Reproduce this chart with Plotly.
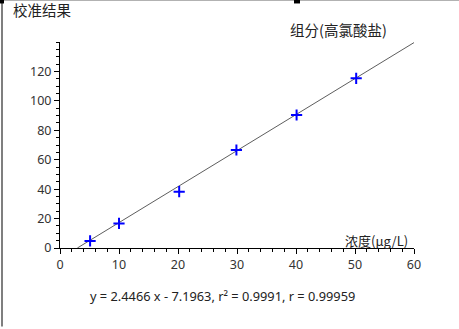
import plotly.graph_objects as go

conc = [5.1, 10.0, 20.2, 29.9, 40.1, 50.2]
resp = [4.8, 16.7, 38.3, 66.6, 90.4, 115.3]
slope = 2.4466
intercept = -7.1963
x_ticks = [0, 10, 20, 30, 40, 50, 60]
y_ticks = [0, 20, 40, 60, 80, 100, 120]

x0 = -intercept / slope
x1 = 60
line_x = [x0, x1]
line_y = [slope * v + intercept for v in line_x]

W, H = 459, 329
L, R = 60, 414
T, B = 42.4, 247.7
def px(x):
    return (x - L) / (R - L)
def py(y):
    return (B - y) / (B - T)

FONT = "Noto Sans, Noto Sans CJK SC, sans-serif"
CJK = "Noto Sans CJK SC, sans-serif"

fig = go.Figure()
fig.add_trace(go.Scatter(x=line_x, y=line_y, mode="lines",
                         line=dict(color="#333333", width=0.8), hoverinfo="skip"))
fig.add_trace(go.Scatter(x=conc, y=resp, mode="markers",
                         marker=dict(symbol="cross-thin", size=8,
                                     line=dict(color="#0000ff", width=2), color="#0000ff")))

axis_common = dict(showgrid=False, zeroline=False, showline=True, linecolor="black",
                   linewidth=1, ticks="outside", ticklen=5, tickcolor="black",
                   tickfont=dict(family=FONT, size=12.5, color="#333333"))
fig.update_xaxes(range=[0, 60], tickvals=x_ticks, **axis_common,
                 minor=dict(dtick=2, ticks="outside", ticklen=3, tickcolor="black"))
fig.update_yaxes(range=[0, 140], tickvals=y_ticks, **axis_common,
                 minor=dict(dtick=5, ticks="outside", ticklen=3, tickcolor="black"))

ann = []
ann.append(dict(x=px(11), y=py(10), xref="paper", yref="paper", text="校准结果",
                showarrow=False, xanchor="left", yanchor="middle",
                font=dict(family=CJK, size=14.5, color="#222222")))
ann.append(dict(x=px(338), y=py(30), xref="paper", yref="paper", text="组分(高氯酸盐)",
                showarrow=False, xanchor="center", yanchor="middle",
                font=dict(family=CJK, size=14.5, color="#222222")))
ann.append(dict(x=px(410), y=py(240), xref="paper", yref="paper", text="浓度(μg/L)",
                showarrow=False, xanchor="right", yanchor="middle",
                font=dict(family=CJK, size=13, color="#222222")))
ann.append(dict(x=px(222), y=py(296), xref="paper", yref="paper",
                text="y = %.4f x - %.4f, r² = 0.9991, r = 0.99959" % (slope, -intercept),
                showarrow=False, xanchor="center", yanchor="middle",
                font=dict(family=FONT, size=12.8, color="#222222")))

shapes = [
    dict(type="line", xref="paper", yref="paper", x0=px(0), x1=px(W), y0=py(0.5), y1=py(0.5),
         line=dict(color="#999999", width=1.5)),
    dict(type="line", xref="paper", yref="paper", x0=px(2), x1=px(2), y0=py(0), y1=py(326),
         line=dict(color="#555555", width=1.5)),
    dict(type="rect", xref="paper", yref="paper", x0=px(0), x1=px(4), y0=py(0), y1=py(4),
         fillcolor="black", line=dict(width=0)),
    dict(type="rect", xref="paper", yref="paper", x0=px(294), x1=px(300), y0=py(0), y1=py(4),
         fillcolor="black", line=dict(width=0)),
]

fig.update_layout(width=W, height=H, margin=dict(l=L, r=W - R, t=T, b=H - B),
                  paper_bgcolor="white", plot_bgcolor="white", showlegend=False,
                  annotations=ann, shapes=shapes)
fig.write_html("out.html")
